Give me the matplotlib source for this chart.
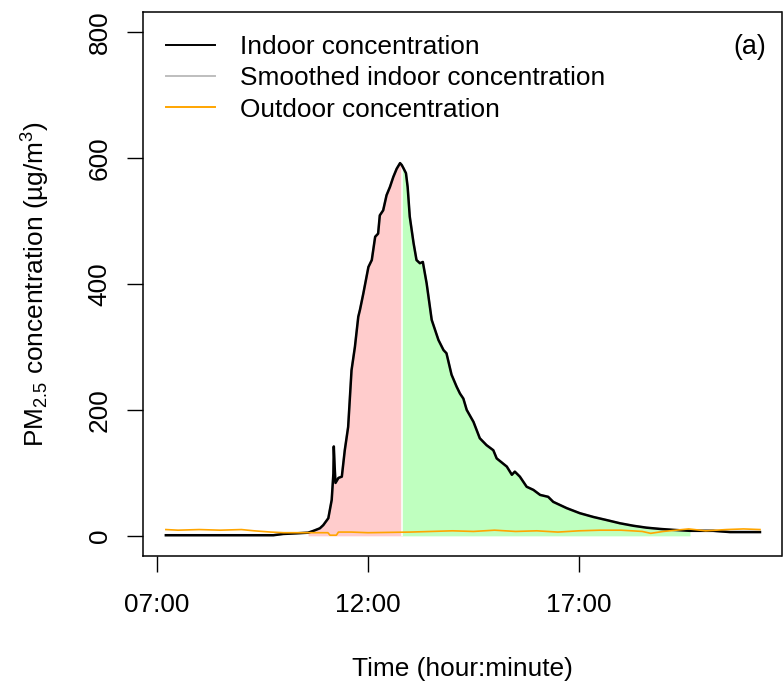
import matplotlib
matplotlib.use("Agg")
import matplotlib.pyplot as plt
import numpy as np

# ---- data (hours of day, µg/m3) ----
indoor_time = [7.21, 8.0, 9.0, 9.76, 9.99, 10.3, 10.58, 10.71, 10.86, 10.94, 11.06, 11.14,
               11.18, 11.19, 11.21, 11.23, 11.30, 11.38, 11.45, 11.53, 11.61, 11.69, 11.77,
               11.81, 11.89, 12.01, 12.09, 12.17, 12.24, 12.28, 12.36, 12.44, 12.52, 12.60,
               12.68, 12.76, 12.80, 12.84, 12.90, 12.94, 12.99, 13.08, 13.15, 13.23, 13.30,
               13.39, 13.51, 13.67, 13.79, 13.86, 13.98, 14.10, 14.18, 14.26, 14.34, 14.50,
               14.65, 14.81, 14.97, 15.05, 15.29, 15.41, 15.48, 15.60, 15.76, 15.92, 16.08,
               16.27, 16.39, 16.71, 17.02, 17.34, 17.66, 17.97, 18.29, 18.60, 18.92, 19.23,
               19.63, 20.18, 20.58, 21.29]
indoor_conc = [1, 1, 1, 1, 3, 4, 5, 8, 12, 17, 28, 57,
               99, 142, 110, 84, 92, 94, 136, 173, 263, 300, 348,
               359, 385, 427, 438, 475, 480, 509, 517, 541, 554, 570,
               583, 592, 589, 584, 576, 554, 507, 465, 438, 433, 435,
               401, 343, 311, 295, 290, 256, 237, 226, 218, 200, 181,
               155, 144, 136, 123, 110, 97, 102, 94, 78, 73, 65,
               62, 54, 44, 36, 30, 25, 20, 16, 13, 11, 9.5,
               8, 8, 6, 6]

outdoor_time = [7.21, 7.5, 8.0, 8.5, 9.0, 9.3, 9.5, 9.7, 10.0, 10.5, 10.9, 11.05, 11.1,
                11.25, 11.3, 11.6, 12.0, 12.5, 13.0, 13.5, 14.0, 14.5, 15.0, 15.5, 16.0,
                16.5, 17.0, 17.5, 18.0, 18.5, 18.7, 19.0, 19.3, 19.6, 20.0, 20.5, 20.9, 21.29]
outdoor_conc = [10, 9, 10, 9, 10, 8, 7, 6, 5, 5, 5, 5, 1,
                1, 6, 6, 5, 5.5, 6, 7, 8, 7, 9, 7, 8,
                6, 8, 9, 9, 7, 4, 7, 9, 11, 8, 10, 11, 10]

rise_start, peak_time, decay_end = 10.58, 12.80, 19.63

x_ticks = [7, 12, 17]
x_tick_labels = ["07:00", "12:00", "17:00"]
y_ticks = [0, 200, 400, 600, 800]

legend_labels = ["Indoor concentration", "Smoothed indoor concentration", "Outdoor concentration"]

# ---- style ----
plt.rcParams['font.family'] = ['Liberation Sans', 'DejaVu Sans']
plt.rcParams['mathtext.fontset'] = 'custom'
plt.rcParams['mathtext.rm'] = 'Liberation Sans'
plt.rcParams['mathtext.it'] = 'Liberation Sans:italic'
FS = 18.9

fig = plt.figure(figsize=(7.84, 6.86), dpi=100)
ax = fig.add_axes([143/784, 130/686, (781.5-143)/784, (556-12)/686])

t = np.array(indoor_time)
c = np.array(indoor_conc)
m1 = (t >= rise_start) & (t <= peak_time)
m2 = (t >= peak_time) & (t <= decay_end)
ax.fill_between(t[m1], 0, c[m1], color='#FFCCCC', lw=0, zorder=1)
ax.fill_between(t[m2], 0, c[m2], color='#BFFFBF', lw=0, zorder=1)
ax.vlines(peak_time, 0, c[t == peak_time][0], color='white', lw=1.1, zorder=2)

l2, = ax.plot(indoor_time, indoor_conc, color='#BEBEBE', lw=1.5, zorder=3)
l1, = ax.plot(indoor_time, indoor_conc, color='black', lw=1.8, zorder=4)
l3, = ax.plot(outdoor_time, outdoor_conc, color='#FFA500', lw=1.2, zorder=5)

ax.set_xlim(6.668, 21.80)
ax.set_ylim(-32, 832)
ax.set_xticks(x_ticks)
ax.set_xticklabels(x_tick_labels)
ax.set_yticks(y_ticks)
ax.set_yticklabels([str(v) for v in y_ticks])
ax.tick_params(axis='both', direction='out', length=11.5, width=1.0, labelsize=FS, color='black')
ax.tick_params(axis='x', pad=15)
ax.tick_params(axis='y', pad=11)
for lab in ax.get_yticklabels():
    lab.set_rotation(90)
    lab.set_va('center')
for s in ax.spines.values():
    s.set_linewidth(1.1)

ax.set_xlabel("Time (hour:minute)", fontsize=FS, labelpad=29)
ax.set_ylabel(r"PM$_{\mathrm{2.5}}$ concentration (µg/m$^{\mathrm{3}}$)", fontsize=FS, labelpad=26)

h1 = matplotlib.lines.Line2D([], [], color='black', lw=1.4)
h2 = matplotlib.lines.Line2D([], [], color='#BEBEBE', lw=1.4)
h3 = matplotlib.lines.Line2D([], [], color='#FFA500', lw=1.4)
ax.legend([h1, h2, h3], legend_labels, loc='upper left', bbox_to_anchor=(0.036, 0.958),
          frameon=False, borderaxespad=0, borderpad=0, handlelength=1.86,
          handletextpad=0.95, labelspacing=0.28, fontsize=FS)

ax.text(0.9507, 0.935, "(a)", transform=ax.transAxes, ha='center', va='center', fontsize=FS + 0.5)

fig.savefig("out.png", dpi=100)
